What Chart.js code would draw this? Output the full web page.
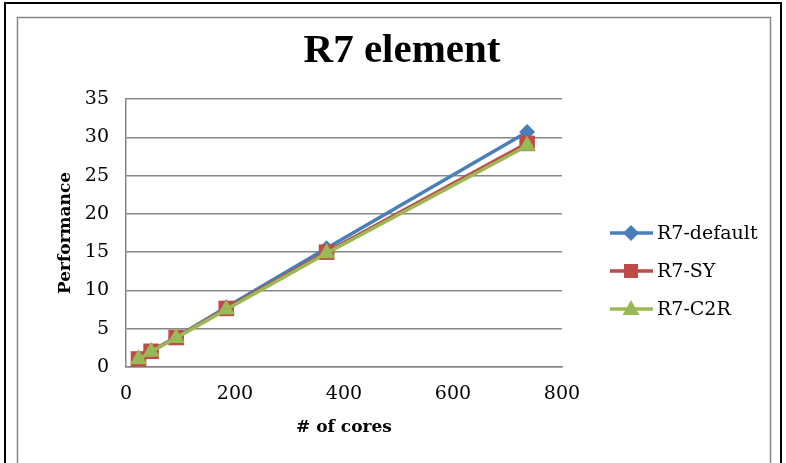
<!DOCTYPE html>
<html>
<head>
<meta charset="utf-8">
<script src="https://cdn.jsdelivr.net/npm/chart.js@4.4.1/dist/chart.umd.min.js"></script>
<style>
  html, body { margin: 0; padding: 0; background: #fff; }
  #perfChart { display: block; }
</style>
</head>
<body>
<canvas id="perfChart" width="786" height="463"></canvas>
<script>
// Values
const cores = [23, 46, 92, 184, 368, 736];
const seriesNames = ['R7-default', 'R7-SY', 'R7-C2R'];
const r7Default = [1.05, 2.05, 3.9, 7.8, 15.5, 30.7];
const r7SY = [1.05, 2.05, 3.85, 7.65, 15.0, 29.2];
const r7C2R = [1.0, 2.0, 3.8, 7.5, 14.85, 28.9];
const xTicks = [0, 200, 400, 600, 800];
const yTicks = [0, 5, 10, 15, 20, 25, 30, 35];

const axisGray = '#868686';
const serif = 'DejaVu Serif';

function toPoints(values) {
    return cores.map(function(c, i) { return { x: c, y: values[i] }; });
}

// Frame and title drawn before the chart
const framePlugin = {
    id: 'frame',
    beforeDraw: function(chart) {
        const ctx = chart.ctx;
        ctx.save();
        ctx.fillStyle = '#fff';
        ctx.fillRect(0, 0, chart.width, chart.height);
        ctx.strokeStyle = '#000';
        ctx.lineWidth = 2;
        ctx.strokeRect(5, 3, 776, 480);
        ctx.strokeStyle = axisGray;
        ctx.lineWidth = 1.5;
        ctx.strokeRect(17.5, 17.5, 753, 470);
        ctx.fillStyle = '#000';
        ctx.font = 'bold 41px "Liberation Serif"';
        ctx.textAlign = 'center';
        ctx.textBaseline = 'middle';
        ctx.fillText('R7 element', 402, 51);
        ctx.restore();
    }
};

function drawMarker(ctx, style, x, y, color) {
    ctx.fillStyle = color;
    ctx.beginPath();
    if (style === 'rectRot') {
        ctx.moveTo(x, y - 8); ctx.lineTo(x + 8, y); ctx.lineTo(x, y + 8); ctx.lineTo(x - 8, y);
    } else if (style === 'rect') {
        ctx.rect(x - 7, y - 7, 14, 14);
    } else {
        ctx.moveTo(x, y - 9); ctx.lineTo(x + 8.5, y + 6); ctx.lineTo(x - 8.5, y + 6);
    }
    ctx.closePath();
    ctx.fill();
}

// Legend with line + marker samples
const legendPlugin = {
    id: 'lineLegend',
    afterDraw: function(chart) {
        const ctx = chart.ctx;
        ctx.save();
        chart.data.datasets.forEach(function(ds, i) {
            const y = 233 + i * 38;
            ctx.strokeStyle = ds.borderColor;
            ctx.lineWidth = 3.5;
            ctx.beginPath();
            ctx.moveTo(610, y);
            ctx.lineTo(653, y);
            ctx.stroke();
            drawMarker(ctx, ds.pointStyle, 631, y, ds.borderColor);
            ctx.fillStyle = '#000';
            ctx.font = '19px "' + serif + '"';
            ctx.textAlign = 'left';
            ctx.textBaseline = 'middle';
            ctx.fillText(ds.label, 657, y + 1);
        });
        ctx.restore();
    }
};

new Chart(document.getElementById('perfChart'), {
    type: 'line',
    data: {
        datasets: [{
            label: seriesNames[0],
            data: toPoints(r7Default),
            borderColor: '#4A7EBB',
            backgroundColor: '#4A7EBB',
            pointStyle: 'rectRot',
            pointRadius: 8,
            order: 2
        }, {
            label: seriesNames[1],
            data: toPoints(r7SY),
            borderColor: '#BE4B48',
            backgroundColor: '#BE4B48',
            pointStyle: 'rect',
            pointRadius: 11,
            order: 1
        }, {
            label: seriesNames[2],
            data: toPoints(r7C2R),
            borderColor: '#98B954',
            backgroundColor: '#98B954',
            pointStyle: 'triangle',
            pointRadius: 10,
            order: 0
        }]
    },
    options: {
        responsive: false,
        devicePixelRatio: 1,
        animation: false,
        datasets: {
            line: { borderWidth: 3.5, pointBorderWidth: 0, tension: 0 }
        },
        layout: { padding: { left: 20, right: 224, top: 99, bottom: 0 } },
        plugins: {
            legend: { display: false },
            tooltip: { enabled: false }
        },
        scales: {
            x: {
                type: 'linear',
                min: 0,
                max: 800,
                afterFit: function(scale) { scale.height = 96; },
                afterBuildTicks: function(scale) {
                    scale.ticks = xTicks.map(function(v) { return { value: v }; });
                },
                ticks: {
                    color: '#000',
                    padding: 16,
                    maxRotation: 0,
                    font: { family: serif, size: 19 }
                },
                grid: { display: false, drawTicks: false },
                border: { display: true, color: axisGray, width: 1.5 },
                title: {
                    display: true,
                    text: '# of cores',
                    color: '#000',
                    font: { family: serif, size: 17, weight: 'bold' },
                    padding: { top: 0, bottom: 25 }
                }
            },
            y: {
                min: 0,
                max: 35,
                afterFit: function(scale) { scale.width = 106; },
                afterBuildTicks: function(scale) {
                    scale.ticks = yTicks.map(function(v) { return { value: v }; });
                },
                ticks: {
                    color: '#000',
                    padding: 17,
                    font: { family: serif, size: 19 }
                },
                grid: { color: axisGray, lineWidth: 1.5, drawTicks: false },
                border: { display: true, color: axisGray, width: 1.5 },
                title: {
                    display: true,
                    text: 'Performance',
                    color: '#000',
                    font: { family: serif, size: 17, weight: 'bold' },
                    padding: { top: 35, bottom: 0 }
                }
            }
        }
    },
    plugins: [framePlugin, legendPlugin]
});
</script>
</body>
</html>
